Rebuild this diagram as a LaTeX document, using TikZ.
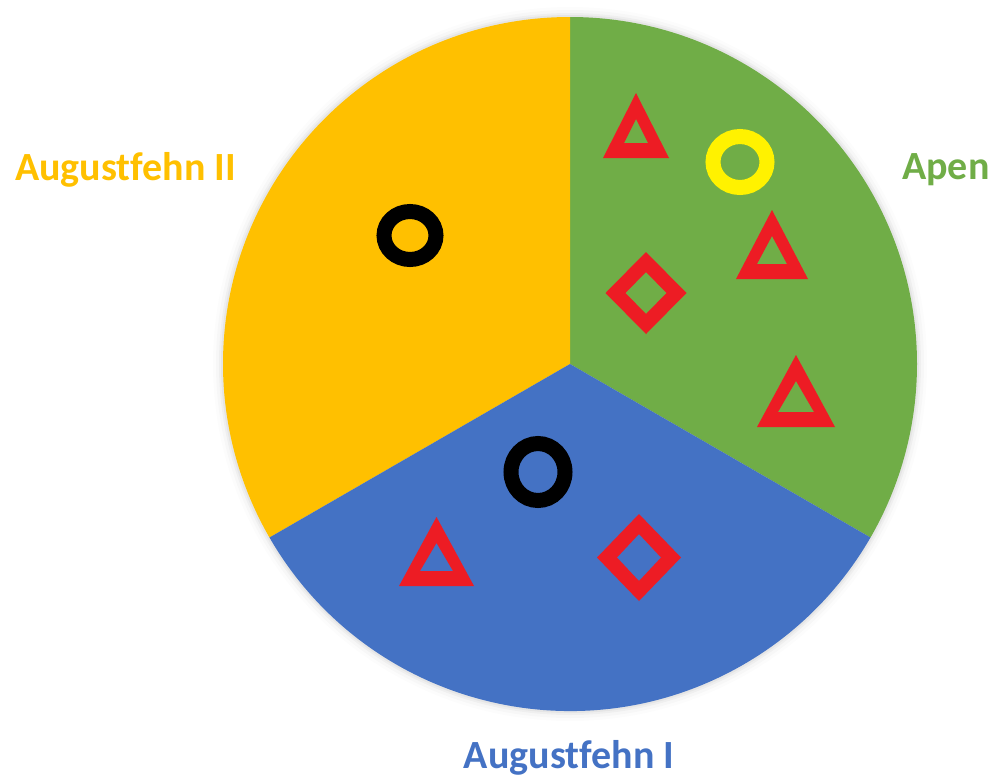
\documentclass[tikz,border=0pt]{standalone}
\usepackage{fontspec}
\setmainfont[Ligatures=NoCommon]{Carlito}
\usepackage{tikz}

\definecolor{sectoryellow}{HTML}{FFC000}
\definecolor{sectorgreen}{HTML}{70AD47}
\definecolor{sectorblue}{HTML}{4472C4}
\definecolor{markred}{HTML}{ED1C24}
\definecolor{markyellow}{HTML}{FFF200}

% red triangle: centre x, apex y, base y, half width
\newcommand{\marktri}[4]{%
  \fill[markred, even odd rule] ({#1},{#2}) -- ({#1+#4},{#3}) -- ({#1-#4},{#3}) -- cycle
    ({#1},{#2+26}) -- ({#1+#4-21},{#3-15}) -- ({#1-#4+21},{#3-15}) -- cycle;}
% red diamond: centre x, centre y, half width, half height
\newcommand{\markdia}[4]{%
  \fill[markred, even odd rule] ({#1-#3},{#2}) -- ({#1},{#2-#4}) -- ({#1+#3},{#2}) -- ({#1},{#2+#4}) -- cycle
    ({#1-#3+20},{#2}) -- ({#1},{#2-#4+20}) -- ({#1+#3-20},{#2}) -- ({#1},{#2+#4-20}) -- cycle;}

\begin{document}
\begin{tikzpicture}[x=1pt, y=-1pt,
    every node/.style={font=\bfseries\fontsize{40}{44}\selectfont, inner sep=0pt},
    ring/.style={line width=15pt}]
  \useasboundingbox (0,0) rectangle (994,777);

  % soft shadow
  \foreach \r/\op in {349/0.04, 351/0.03, 354/0.02, 357/0.012}
    \fill[black, opacity=\op] (570,364) circle[radius=\r];

  % sectors
  \fill[sectorgreen] (570,364) -- (570,17) arc[start angle=-90, end angle=30, radius=347] -- cycle;
  \fill[sectoryellow] (570,364) -- (570,17) arc[start angle=-90, end angle=-210, radius=347] -- cycle;
  \fill[sectorblue] (570,364) -- ++(150:347) arc[start angle=150, end angle=30, radius=347] -- cycle;

  % marks
  \draw[ring, black] (410,235.5) ellipse[x radius=26, y radius=24];
  \draw[ring, markyellow] (740,162) ellipse[x radius=27, y radius=25.5];
  \draw[ring, black] (538,472) ellipse[x radius=27, y radius=28.5];
  \marktri{636}{93}{158}{33}
  \marktri{772}{210}{279}{36}
  \marktri{796}{355}{427}{39}
  \marktri{436.5}{517}{586}{37.5}
  \markdia{646}{293}{40.5}{41}
  \markdia{639}{557.5}{42}{43.5}

  % labels
  \node[text=sectoryellow, anchor=base west] (augustII) at (15,180) {Augustfehn II};
  \node[text=sectorgreen, anchor=base west] (apen) at (902,179) {Apen};
  \node[text=sectorblue, anchor=base] (augustI) at (569,768) {Augustfehn I};
\end{tikzpicture}
\end{document}
